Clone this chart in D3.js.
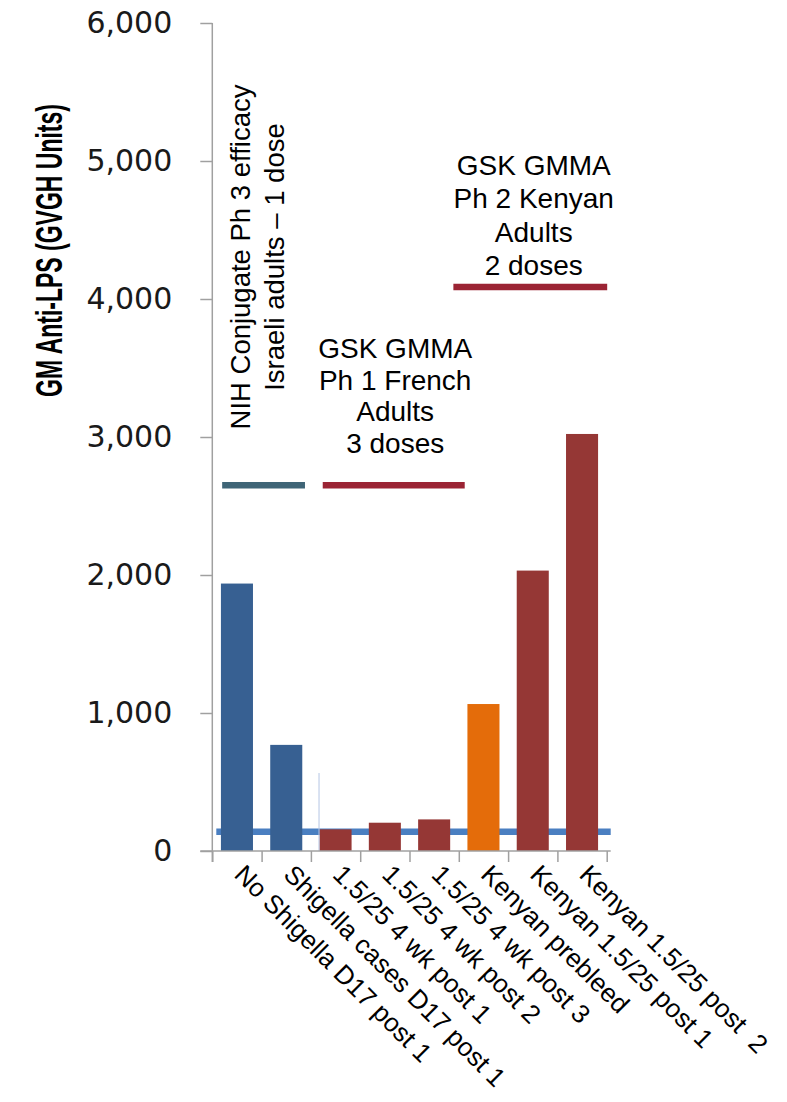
<!DOCTYPE html>
<html>
<head>
<meta charset="utf-8">
<script src="https://cdn.jsdelivr.net/npm/d3@7"></script>
<style>
  html, body { margin: 0; padding: 0; background: #ffffff; }
  svg { display: block; }
  text { white-space: pre; }
</style>
</head>
<body>
<svg id="chart" width="787" height="1102"></svg>
<script>
// Serum anti-LPS geometric mean titres by study group
const categories = [
  "No Shigella D17 post 1",
  "Shigella cases D17 post 1",
  "1.5/25 4 wk post 1",
  "1.5/25 4 wk post 2",
  "1.5/25 4 wk post 3",
  "Kenyan prebleed",
  "Kenyan 1.5/25 post 1",
  "Kenyan 1.5/25 post  2"
];
const values = [1938, 769, 157, 205, 229, 1065, 2032, 3022];
const barColors = ["#376092", "#376092", "#953735", "#953735", "#953735", "#e46c0a", "#953735", "#953735"];
const yTicks = [0, 1000, 2000, 3000, 4000, 5000, 6000];
const thresholdValue = 140;
const dividerValue = 565;

const svg = d3.select("#chart");
const plotLeft = 212.3, plotRight = 606.7, plotTop = 23, plotBottom = 851;

const x = d3.scaleBand().domain(categories).range([plotLeft, plotRight])
  .paddingInner(0.35).paddingOuter(0.175);
const edge = d3.scaleLinear().domain([0, categories.length]).range([plotLeft, plotRight]);
const y = d3.scaleLinear().domain([0, 6000]).range([plotBottom, plotTop]);

const axisColor = "#a0a0a0";

// Y axis
const yAxis = svg.append("g").attr("transform", `translate(${plotLeft},0)`)
  .call(d3.axisLeft(y).tickValues(yTicks).tickFormat(d3.format(","))
    .tickSize(12).tickSizeOuter(0).tickPadding(28));
yAxis.select(".domain").remove();
yAxis.selectAll(".tick line").attr("stroke", axisColor).attr("stroke-width", 1.5);
yAxis.selectAll(".tick text")
  .attr("font-family", "DejaVu Sans, Verdana, sans-serif")
  .attr("font-size", 30).attr("fill", "#1a1a1a");
svg.append("line").attr("x1", plotLeft).attr("x2", plotLeft)
  .attr("y1", y(6000)).attr("y2", plotBottom + 11)
  .attr("stroke", axisColor).attr("stroke-width", 1.5);

// Threshold line behind the bars
svg.append("line")
  .attr("x1", plotLeft + 4).attr("x2", plotRight + 4)
  .attr("y1", y(thresholdValue)).attr("y2", y(thresholdValue))
  .attr("stroke", "#4a7fc1").attr("stroke-width", 6.5);

// Bars
svg.append("g").selectAll("rect").data(values).join("rect")
  .attr("x", (d, i) => x(categories[i]))
  .attr("width", x.bandwidth())
  .attr("y", d => y(d))
  .attr("height", d => y(0) - y(d))
  .attr("fill", (d, i) => barColors[i]);

// Thin divider at the start of the French study
svg.append("line")
  .attr("x1", x(categories[2]) - 0.5).attr("x2", x(categories[2]) - 0.5)
  .attr("y1", y(dividerValue)).attr("y2", plotBottom)
  .attr("stroke", "#b4c6e4").attr("stroke-width", 1);

// X axis
const xAxis = svg.append("g").attr("transform", `translate(0,${plotBottom})`)
  .call(d3.axisBottom(edge).tickValues(d3.range(categories.length + 1))
    .tickFormat("").tickSize(11).tickSizeOuter(0));
xAxis.select(".domain").remove();
xAxis.selectAll(".tick line").attr("stroke", axisColor).attr("stroke-width", 1.5);
svg.append("line").attr("x1", plotLeft - 12).attr("x2", plotRight + 4)
  .attr("y1", plotBottom).attr("y2", plotBottom)
  .attr("stroke", axisColor).attr("stroke-width", 1.5);

// Category labels, slanted
svg.append("g").selectAll("text").data(categories).join("text")
  .attr("transform", d => `translate(${x(d) + x.bandwidth() / 2 - 4},876) rotate(45)`)
  .attr("font-family", "Liberation Sans, Arial, sans-serif")
  .attr("font-size", 26).attr("fill", "#000")
  .text(d => d);

// Y axis title: narrow, tall bold lettering
svg.append("text")
  .attr("transform", "translate(62,250.5) rotate(-90) scale(1,1.6)")
  .attr("text-anchor", "middle")
  .attr("font-family", "Liberation Sans, Arial, sans-serif")
  .attr("font-weight", "bold").attr("font-size", 23)
  .attr("fill", "#000")
  .text("GM Anti-LPS (GVGH Units)");

// Study group brackets
const brackets = [
  { from: 0.2, to: 1.88, level: 2651, color: "#3f6577" },
  { from: 2.24, to: 5.12, level: 2651, color: "#9b2434" },
  { from: 4.89, to: 8.01, level: 4087, color: "#9b2434" }
];
svg.append("g").selectAll("line").data(brackets).join("line")
  .attr("x1", d => edge(d.from)).attr("x2", d => edge(d.to))
  .attr("y1", d => y(d.level)).attr("y2", d => y(d.level))
  .attr("stroke", d => d.color).attr("stroke-width", 6.5);

const annoFont = "Liberation Sans, Arial, sans-serif";

// NIH study caption, vertical
[["NIH Conjugate Ph 3 efficacy", 250], ["Israeli adults \u2013 1 dose", 284]].forEach(([t, bx]) => {
  svg.append("text")
    .attr("transform", `translate(${bx},257) rotate(-90)`)
    .attr("font-family", annoFont).attr("font-size", 27.5).attr("fill", "#000")
    .attr("text-anchor", "middle")
    .text(t);
});

// GSK captions
function caption(lines, cx, y0, dy) {
  svg.append("g").selectAll("text").data(lines).join("text")
    .attr("x", cx).attr("y", (d, i) => y0 + i * dy)
    .attr("text-anchor", "middle")
    .attr("font-family", annoFont).attr("font-size", 28).attr("fill", "#000")
    .text(d => d);
}
caption(["GSK GMMA", "Ph 1 French", "Adults", "3 doses"], edge(3.71), 358, 31.6);
caption(["GSK GMMA", "Ph 2 Kenyan", "Adults", "2 doses"], edge(6.52), 175, 33.4);
</script>
</body>
</html>
